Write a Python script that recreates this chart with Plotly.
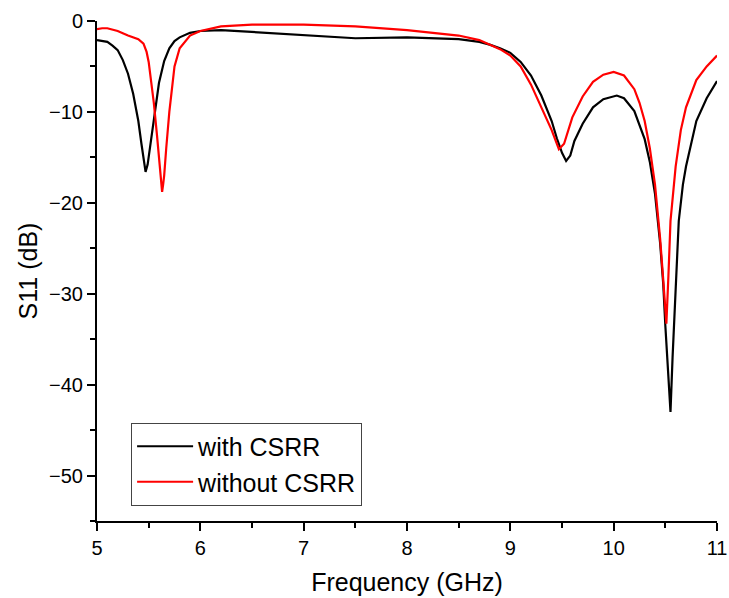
import plotly.graph_objects as go

freq_with = [5.0, 5.1, 5.15, 5.2, 5.25, 5.3, 5.35, 5.4, 5.43, 5.45, 5.47, 5.49, 5.5, 5.53, 5.55, 5.6, 5.65, 5.7, 5.75,
             5.8, 5.9, 6.0, 6.2, 6.5, 7.0, 7.5, 8.0, 8.5, 8.7, 8.8, 8.9, 9.0, 9.1, 9.2, 9.3, 9.4, 9.45, 9.5, 9.54, 9.58,
             9.62, 9.7, 9.8, 9.9, 10.03, 10.1, 10.2, 10.3, 10.35, 10.4, 10.45, 10.48, 10.5, 10.53, 10.55, 10.57, 10.6,
             10.63, 10.67, 10.7, 10.8, 10.9, 11.0]
s11_with = [-2.1, -2.3, -2.7, -3.2, -4.3, -5.8, -8.0, -11.0, -13.5, -15.3, -16.6, -15.8, -15.0, -12.2, -10.8, -6.8, -4.4, -3.0, -2.2,
            -1.8, -1.3, -1.1, -1.0, -1.2, -1.6, -1.9, -1.8, -2.0, -2.3, -2.6, -3.0, -3.5, -4.5, -6.0, -8.2, -11.0, -12.9, -14.5, -15.4, -14.8,
            -13.2, -11.3, -9.5, -8.6, -8.2, -8.5, -9.9, -13.0, -15.5, -19.0, -24.5, -29.0, -33.5, -39.0, -43.0, -37.0, -28.5,
            -22.0, -18.0, -16.0, -11.0, -8.5, -6.6]

freq_without = [5.0, 5.05, 5.1, 5.2, 5.3, 5.4, 5.45, 5.48, 5.5, 5.53, 5.55, 5.58, 5.6, 5.62, 5.63, 5.64, 5.65, 5.67, 5.68,
                5.7, 5.75, 5.8, 5.9, 6.0, 6.2, 6.5, 7.0, 7.5, 8.0, 8.5, 8.7, 8.8, 8.9, 9.0, 9.1, 9.2, 9.3, 9.4, 9.47, 9.52,
                9.6, 9.7, 9.8, 9.9, 10.0, 10.1, 10.2, 10.25, 10.3, 10.35, 10.4, 10.45, 10.48, 10.51, 10.53, 10.55, 10.6,
                10.65, 10.7, 10.8, 10.9, 11.0]
s11_without = [-0.9, -0.8, -0.8, -1.1, -1.6, -2.0, -2.5, -3.4, -4.5, -7.0, -9.0, -12.5, -15.0, -17.5, -18.8, -18.0, -17.0, -14.0, -12.5,
               -10.0, -5.0, -3.0, -1.6, -1.1, -0.6, -0.4, -0.4, -0.6, -1.0, -1.6, -2.1, -2.6, -3.1, -3.8, -5.0, -7.0, -9.5, -12.0, -14.1, -13.5,
               -10.6, -8.3, -6.7, -5.9, -5.6, -6.0, -7.5, -9.0, -11.0, -14.0, -18.0, -24.0, -28.5, -33.3, -28.0, -22.0, -16.0,
               -12.0, -9.5, -6.5, -5.0, -3.8]

x_ticks = [5, 6, 7, 8, 9, 10, 11]
y_ticks = [0, -10, -20, -30, -40, -50]

fig = go.Figure()
fig.add_trace(go.Scatter(x=freq_with, y=s11_with, mode="lines", name="with CSRR",
                         line=dict(color="black", width=2.2)))
fig.add_trace(go.Scatter(x=freq_without, y=s11_without, mode="lines", name="without CSRR",
                         line=dict(color="#ff0000", width=2.2)))

font_family = "Liberation Sans, Arial, sans-serif"
axis_common = dict(showgrid=False, zeroline=False, showline=True, linecolor="black", linewidth=2,
                   ticks="outside", ticklen=8, tickwidth=2, tickcolor="black", automargin=False,
                   tickfont=dict(family=font_family, size=20, color="black"))

fig.update_xaxes(range=[5, 11], tickvals=x_ticks,
                 title=dict(text="Frequency (GHz)", font=dict(family=font_family, size=25, color="black")),
                 minor=dict(ticks="outside", ticklen=5, tickwidth=2, tickcolor="black", dtick=0.5, tick0=5),
                 **axis_common)
fig.update_yaxes(range=[-55, 0], tickvals=y_ticks,
                 title=dict(text="S11 (dB)", font=dict(family=font_family, size=25, color="black"), standoff=4),
                 minor=dict(ticks="outside", ticklen=5, tickwidth=2, tickcolor="black", dtick=5, tick0=0),
                 **axis_common)

fig.update_layout(
    width=729, height=598,
    margin=dict(l=97, r=12, t=21, b=77),
    plot_bgcolor="white", paper_bgcolor="white",
    showlegend=True,
    legend=dict(x=0.055, y=0.197, xanchor="left", yanchor="top",
                bgcolor="white", bordercolor="#444", borderwidth=1,
                font=dict(family=font_family, size=25, color="black"),
                tracegroupgap=0, itemwidth=56),
)

fig.write_html("out.html")
